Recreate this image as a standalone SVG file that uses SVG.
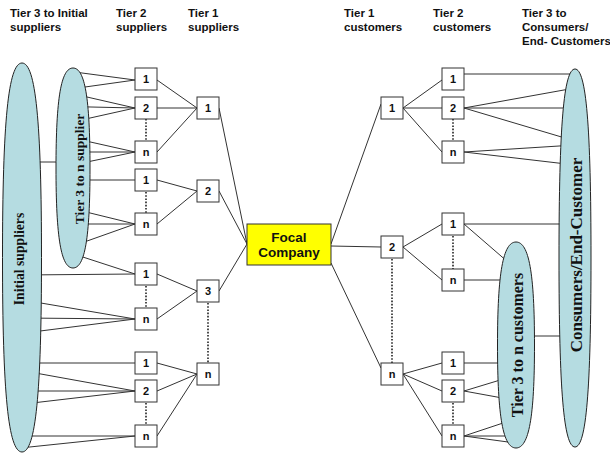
<svg xmlns="http://www.w3.org/2000/svg" width="610" height="455" viewBox="0 0 610 455">
<style>
.hdr{font-family:"Liberation Sans",Arial,sans-serif;font-weight:bold;font-size:11.5px;fill:#111}
.num{font-family:"Liberation Sans",Arial,sans-serif;font-weight:bold;font-size:11px;fill:#111;text-anchor:middle}
.box{fill:#fff;stroke:#333;stroke-width:1}
.ell{fill:#B5DCE1;stroke:#222;stroke-width:1}
.etx{font-family:"Liberation Serif","Times New Roman",serif;font-weight:bold;fill:#111;text-anchor:middle}
.ln line{stroke:#333;stroke-width:1}
.dot line{stroke:#222;stroke-width:1.6;stroke-dasharray:1.6,1.6}
.focal{fill:#FFFF00;stroke:#333;stroke-width:1}
.ftx{font-family:"Liberation Sans",Arial,sans-serif;font-weight:bold;font-size:13.5px;fill:#111;text-anchor:middle}
</style>
<rect width="610" height="455" fill="#fff"/>
<g id="headers">
<text class="hdr" x="10" y="17">Tier 3 to Initial</text>
<text class="hdr" x="10" y="31">suppliers</text>
<text class="hdr" x="116" y="17">Tier 2</text>
<text class="hdr" x="116" y="31">suppliers</text>
<text class="hdr" x="188" y="17">Tier 1</text>
<text class="hdr" x="188" y="31">suppliers</text>
<text class="hdr" x="344" y="17">Tier 1</text>
<text class="hdr" x="344" y="31">customers</text>
<text class="hdr" x="433" y="17">Tier 2</text>
<text class="hdr" x="433" y="31">customers</text>
<text class="hdr" x="522" y="17">Tier 3 to</text>
<text class="hdr" x="522" y="31">Consumers/</text>
<text class="hdr" x="522" y="45">End- Customers</text>
</g>
<g id="connectors">
<g class="ln">
<line x1="73" y1="71.8" x2="135" y2="80"/>
<line x1="73" y1="88.7" x2="135" y2="80"/>
<line x1="73" y1="93.8" x2="135" y2="108"/>
<line x1="73" y1="106.6" x2="135" y2="108"/>
<line x1="73" y1="121.8" x2="135" y2="108"/>
<line x1="73" y1="138.1" x2="135" y2="152"/>
<line x1="73" y1="152" x2="135" y2="152"/>
<line x1="73" y1="164.9" x2="135" y2="152"/>
<line x1="73" y1="180" x2="135" y2="180"/>
<line x1="73" y1="208.8" x2="135" y2="224"/>
<line x1="73" y1="224" x2="135" y2="224"/>
<line x1="73" y1="246" x2="135" y2="224"/>
<line x1="73" y1="253.8" x2="135" y2="274"/>
<line x1="22" y1="162" x2="73" y2="162"/>
<line x1="22" y1="275" x2="135" y2="274"/>
<line x1="22" y1="299.8" x2="135" y2="319"/>
<line x1="22" y1="318" x2="135" y2="319"/>
<line x1="22" y1="333.3" x2="135" y2="319"/>
<line x1="22" y1="363" x2="135" y2="363"/>
<line x1="22" y1="370.6" x2="135" y2="391"/>
<line x1="22" y1="391" x2="135" y2="391"/>
<line x1="22" y1="404.2" x2="135" y2="391"/>
<line x1="22" y1="436" x2="135" y2="436"/>
<line x1="22" y1="447.8" x2="135" y2="436"/>
<line x1="157" y1="80" x2="197" y2="108"/>
<line x1="157" y1="108" x2="197" y2="108"/>
<line x1="157" y1="152" x2="197" y2="108"/>
<line x1="157" y1="180" x2="197" y2="191"/>
<line x1="157" y1="224" x2="197" y2="191"/>
<line x1="157" y1="274" x2="197" y2="291"/>
<line x1="157" y1="319" x2="197" y2="291"/>
<line x1="157" y1="363" x2="197" y2="374"/>
<line x1="157" y1="391" x2="197" y2="374"/>
<line x1="157" y1="436" x2="197" y2="374"/>
<line x1="219" y1="108" x2="247" y2="244"/>
<line x1="219" y1="191" x2="247" y2="244"/>
<line x1="219" y1="291" x2="247" y2="244"/>
<line x1="331" y1="244" x2="381" y2="104"/>
<line x1="331" y1="246" x2="381" y2="247"/>
<line x1="331" y1="263" x2="381" y2="368"/>
<line x1="403" y1="108" x2="442" y2="80"/>
<line x1="403" y1="108" x2="442" y2="108"/>
<line x1="403" y1="108" x2="442" y2="152"/>
<line x1="403" y1="247" x2="442" y2="224"/>
<line x1="403" y1="247" x2="442" y2="280"/>
<line x1="403" y1="374" x2="442" y2="363"/>
<line x1="403" y1="374" x2="442" y2="391"/>
<line x1="403" y1="374" x2="442" y2="436"/>
<line x1="464" y1="74" x2="575" y2="74"/>
<line x1="464" y1="108" x2="575" y2="88"/>
<line x1="464" y1="108" x2="575" y2="108"/>
<line x1="464" y1="108" x2="575" y2="141"/>
<line x1="464" y1="152" x2="575" y2="145"/>
<line x1="464" y1="152" x2="575" y2="165"/>
<line x1="464" y1="224" x2="575" y2="224"/>
<line x1="464" y1="224" x2="516" y2="269"/>
<line x1="464" y1="280" x2="516" y2="280"/>
<line x1="516" y1="336" x2="575" y2="336"/>
<line x1="464" y1="363" x2="516" y2="363"/>
<line x1="464" y1="391" x2="516" y2="375.2"/>
<line x1="464" y1="391" x2="516" y2="400.5"/>
<line x1="464" y1="436" x2="516" y2="418.7"/>
<line x1="464" y1="436" x2="516" y2="436"/>
<line x1="464" y1="436" x2="516" y2="443.1"/>
</g>
<g class="dot">
<line x1="146" y1="119" x2="146" y2="141"/>
<line x1="146" y1="192" x2="146" y2="213"/>
<line x1="146" y1="286" x2="146" y2="308"/>
<line x1="146" y1="403" x2="146" y2="425"/>
<line x1="208" y1="303" x2="208" y2="363"/>
<line x1="392" y1="259" x2="392" y2="363"/>
<line x1="453" y1="119" x2="453" y2="141"/>
<line x1="453" y1="236" x2="453" y2="269"/>
<line x1="453" y1="403" x2="453" y2="425"/>
</g>
</g>
<g id="initial-suppliers">
<path class="ell" d="M22,63 C35.65,63 41.5,121.35 41.5,257.5 C41.5,393.65 35.65,452 22,452 C8.35,452 2.5,393.65 2.5,257.5 C2.5,121.35 8.35,63 22,63 Z"/>
<text class="etx" font-size="13.7" x="24" y="259" transform="rotate(-90 24 259)">Initial suppliers</text>
</g>
<g id="tier3-suppliers">
<path class="ell" d="M73,68 C84.9,68 90,98 90,168 C90,238 84.9,268 73,268 C61.1,268 56,238 56,168 C56,98 61.1,68 73,68 Z"/>
<text class="etx" font-size="13.5" x="84" y="169" transform="rotate(-90 84 169)">Tier 3 to n supplier</text>
</g>
<g id="consumers">
<path class="ell" d="M575,69 C586.2,69 591,125.7 591,258 C591,390.3 586.2,447 575,447 C563.8,447 559,390.3 559,258 C559,125.7 563.8,69 575,69 Z"/>
<text class="etx" font-size="17" x="582" y="255" transform="rotate(-90 582 255)">Consumers/End-Customer</text>
</g>
<g id="tier3-customers">
<path class="ell" d="M516,242 C528.95,242 534.5,272.9 534.5,345 C534.5,417.1 528.95,448 516,448 C503.05,448 497.5,417.1 497.5,345 C497.5,272.9 503.05,242 516,242 Z"/>
<text class="etx" font-size="16" x="523" y="345" transform="rotate(-90 523 345)">Tier 3 to n customers</text>
</g>
<g id="focal">
<rect class="focal" x="247" y="224" width="84" height="41"/>
<text class="ftx" x="289" y="242">Focal</text>
<text class="ftx" x="289" y="257">Company</text>
</g>
<g id="s2-a1"><rect class="box" x="135" y="68" width="22" height="22"/><text class="num" x="146" y="83">1</text></g>
<g id="s2-a2"><rect class="box" x="135" y="97" width="22" height="22"/><text class="num" x="146" y="112">2</text></g>
<g id="s2-an"><rect class="box" x="135" y="141" width="22" height="22"/><text class="num" x="146" y="156">n</text></g>
<g id="s2-b1"><rect class="box" x="135" y="169" width="22" height="22"/><text class="num" x="146" y="184">1</text></g>
<g id="s2-bn"><rect class="box" x="135" y="213" width="22" height="22"/><text class="num" x="146" y="228">n</text></g>
<g id="s2-c1"><rect class="box" x="135" y="263" width="22" height="22"/><text class="num" x="146" y="278">1</text></g>
<g id="s2-cn"><rect class="box" x="135" y="308" width="22" height="22"/><text class="num" x="146" y="323">n</text></g>
<g id="s2-d1"><rect class="box" x="135" y="352" width="22" height="22"/><text class="num" x="146" y="367">1</text></g>
<g id="s2-d2"><rect class="box" x="135" y="380" width="22" height="22"/><text class="num" x="146" y="395">2</text></g>
<g id="s2-dn"><rect class="box" x="135" y="425" width="22" height="22"/><text class="num" x="146" y="440">n</text></g>
<g id="s1-1"><rect class="box" x="197" y="97" width="22" height="22"/><text class="num" x="208" y="112">1</text></g>
<g id="s1-2"><rect class="box" x="197" y="180" width="22" height="22"/><text class="num" x="208" y="195">2</text></g>
<g id="s1-3"><rect class="box" x="197" y="280" width="22" height="22"/><text class="num" x="208" y="295">3</text></g>
<g id="s1-n"><rect class="box" x="197" y="363" width="22" height="22"/><text class="num" x="208" y="378">n</text></g>
<g id="c1-1"><rect class="box" x="381" y="97" width="22" height="22"/><text class="num" x="392" y="112">1</text></g>
<g id="c1-2"><rect class="box" x="381" y="236" width="22" height="22"/><text class="num" x="392" y="251">2</text></g>
<g id="c1-n"><rect class="box" x="381" y="363" width="22" height="22"/><text class="num" x="392" y="378">n</text></g>
<g id="c2-a1"><rect class="box" x="442" y="68" width="22" height="22"/><text class="num" x="453" y="83">1</text></g>
<g id="c2-a2"><rect class="box" x="442" y="97" width="22" height="22"/><text class="num" x="453" y="112">2</text></g>
<g id="c2-an"><rect class="box" x="442" y="141" width="22" height="22"/><text class="num" x="453" y="156">n</text></g>
<g id="c2-b1"><rect class="box" x="442" y="213" width="22" height="22"/><text class="num" x="453" y="228">1</text></g>
<g id="c2-bn"><rect class="box" x="442" y="269" width="22" height="22"/><text class="num" x="453" y="284">n</text></g>
<g id="c2-c1"><rect class="box" x="442" y="352" width="22" height="22"/><text class="num" x="453" y="367">1</text></g>
<g id="c2-c2"><rect class="box" x="442" y="380" width="22" height="22"/><text class="num" x="453" y="395">2</text></g>
<g id="c2-cn"><rect class="box" x="442" y="425" width="22" height="22"/><text class="num" x="453" y="440">n</text></g>
</svg>
